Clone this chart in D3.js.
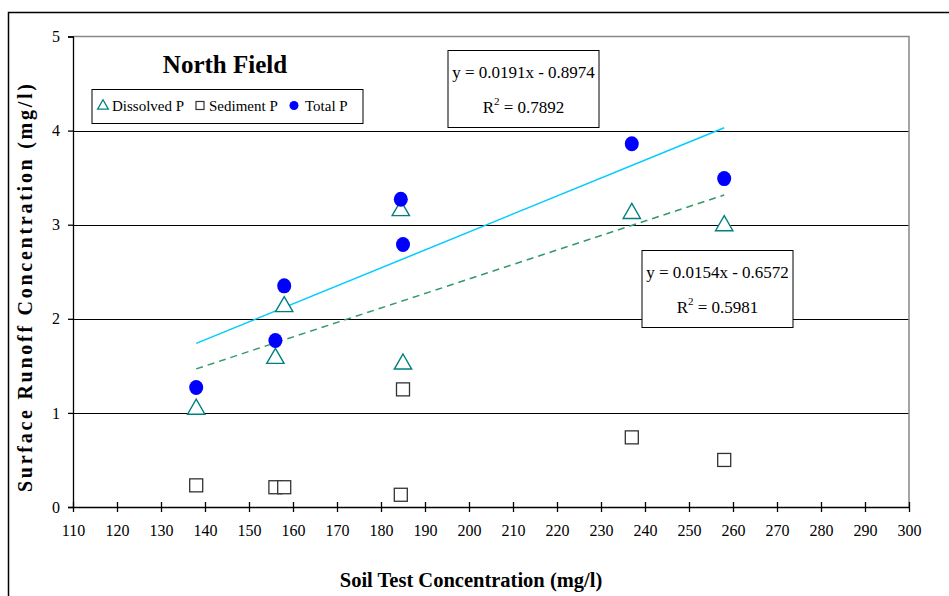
<!DOCTYPE html>
<html>
<head>
<meta charset="utf-8">
<script src="https://cdn.jsdelivr.net/npm/d3@7/dist/d3.min.js"></script>
<style>
  html, body { margin: 0; padding: 0; background: #fff; }
  svg text { font-family: "Liberation Serif", "DejaVu Serif", Tinos, "Times New Roman", serif !important; }
</style>
</head>
<body>
<svg id="chart" width="949" height="596"></svg>
<script>
// Soil test P vs. runoff P, North Field
const soilTest   = [138, 156, 158, 184.5, 185, 237, 258];
const dissolvedP = [1.05, 1.59, 2.14, 3.16, 1.53, 3.13, 3.00];
const sedimentP  = [0.23, 0.21, 0.21, 0.13, 1.25, 0.74, 0.50];
const totalP     = [1.27, 1.77, 2.35, 3.27, 2.79, 3.86, 3.49];

const xTicks = d3.range(110, 301, 10);
const yTicks = [0, 1, 2, 3, 4, 5];

// Fitted trend lines
const totalFit     = { slope: 0.0191, intercept: -0.8974, r2: "0.7892" };
const dissolvedFit = { slope: 0.0154, intercept: -0.6572, r2: "0.5981" };

const svg = d3.select("#chart");
const plot = { left: 73, right: 909, top: 36.5, bottom: 507 };

const x = d3.scaleLinear().domain([110, 300]).range([plot.left, plot.right]);
const y = d3.scaleLinear().domain([0, 5]).range([plot.bottom, plot.top]);

// Outer frame (top and left edges)
svg.append("path")
  .attr("d", `M8.5,596 V12.5 H949`)
  .attr("fill", "none").attr("stroke", "#000").attr("stroke-width", 1.5);

// Horizontal gridlines
svg.append("g").selectAll("line")
  .data(yTicks.filter(d => d > 0 && d < 5))
  .join("line")
  .attr("x1", plot.left).attr("x2", plot.right)
  .attr("y1", d => Math.round(y(d)) + 0.5).attr("y2", d => Math.round(y(d)) + 0.5)
  .attr("stroke", "#000").attr("stroke-width", 1);

// Plot area top and right border
svg.append("path")
  .attr("d", `M${plot.left},${plot.top} H${plot.right} V${plot.bottom}`)
  .attr("fill", "none").attr("stroke", "#888").attr("stroke-width", 1.5);

// Y axis
const yAxis = svg.append("g")
  .attr("transform", `translate(${plot.left},0)`)
  .call(d3.axisLeft(y).tickValues(yTicks).tickSize(5).tickPadding(8).tickFormat(d3.format("d")));
yAxis.attr("font-family", null);
yAxis.select(".domain").attr("stroke", "#000").attr("stroke-width", 1.3);
yAxis.selectAll(".tick line").attr("stroke", "#000").attr("stroke-width", 1.3);
yAxis.selectAll(".tick text").attr("font-size", 16).attr("fill", "#000");

// X axis with crossing ticks
const xAxis = svg.append("g")
  .attr("transform", `translate(0,${plot.bottom})`)
  .call(d3.axisBottom(x).tickValues(xTicks).tickSizeInner(5).tickSizeOuter(0).tickPadding(13).tickFormat(d3.format("d")));
xAxis.attr("font-family", null);
xAxis.select(".domain").attr("stroke", "#000").attr("stroke-width", 1.5);
xAxis.selectAll(".tick line").attr("y1", -5).attr("y2", 5).attr("stroke", "#000").attr("stroke-width", 1.3);
xAxis.selectAll(".tick text").attr("font-size", 16).attr("fill", "#000");

// Trend lines
const xFitMin = d3.min(soilTest), xFitMax = d3.max(soilTest);
svg.append("line")
  .attr("x1", x(xFitMin)).attr("y1", y(totalFit.slope * xFitMin + totalFit.intercept))
  .attr("x2", x(xFitMax)).attr("y2", y(totalFit.slope * xFitMax + totalFit.intercept))
  .attr("stroke", "#00CCFF").attr("stroke-width", 1.5);
svg.append("line")
  .attr("x1", x(xFitMin)).attr("y1", y(dissolvedFit.slope * xFitMin + dissolvedFit.intercept))
  .attr("x2", x(xFitMax)).attr("y2", y(dissolvedFit.slope * xFitMax + dissolvedFit.intercept))
  .attr("stroke", "#339966").attr("stroke-width", 1.5).attr("stroke-dasharray", "7,5");

// Markers
const tri = d3.symbol().type(d3.symbolTriangle).size(130);
svg.append("g").selectAll("rect")
  .data(soilTest.map((s, i) => [s, sedimentP[i]]))
  .join("rect")
  .attr("x", d => x(d[0]) - 6.5).attr("y", d => y(d[1]) - 6.5)
  .attr("width", 13).attr("height", 13)
  .attr("fill", "#fff").attr("stroke", "#333").attr("stroke-width", 1.3);

svg.append("g").selectAll("path")
  .data(soilTest.map((s, i) => [s, dissolvedP[i]]))
  .join("path")
  .attr("d", tri)
  .attr("transform", d => `translate(${x(d[0])},${y(d[1]) + 1})`)
  .attr("fill", "#fff").attr("stroke", "#008080").attr("stroke-width", 1.4);

svg.append("g").selectAll("ellipse")
  .data(soilTest.map((s, i) => [s, totalP[i]]))
  .join("ellipse")
  .attr("cx", d => x(d[0])).attr("cy", d => y(d[1]))
  .attr("rx", 7).attr("ry", 7.5)
  .attr("fill", "#0000FF");

// Title
svg.append("text")
  .attr("x", 225).attr("y", 73)
  .attr("text-anchor", "middle")
  .attr("font-size", 25).attr("font-weight", "bold")
  .text("North Field");

// Legend
const legend = svg.append("g");
legend.append("rect")
  .attr("x", 92).attr("y", 89.5).attr("width", 271).attr("height", 34)
  .attr("fill", "#fff").attr("stroke", "#000").attr("stroke-width", 1);
legend.append("path")
  .attr("d", d3.symbol().type(d3.symbolTriangle).size(50))
  .attr("transform", "translate(103,106)")
  .attr("fill", "none").attr("stroke", "#008080").attr("stroke-width", 1.3);
legend.append("text").attr("x", 112).attr("y", 111).attr("font-size", 15).text("Dissolved P");
legend.append("rect")
  .attr("x", 196).attr("y", 101.5).attr("width", 8).attr("height", 8)
  .attr("fill", "none").attr("stroke", "#333").attr("stroke-width", 1.2);
legend.append("text").attr("x", 209).attr("y", 111).attr("font-size", 15).text("Sediment P");
legend.append("circle").attr("cx", 294).attr("cy", 105.5).attr("r", 4.5).attr("fill", "#0000FF");
legend.append("text").attr("x", 305).attr("y", 111).attr("font-size", 15).text("Total P");

// Equation boxes
function eqBox(bx, by, fit) {
  const g = svg.append("g");
  g.append("rect")
    .attr("x", bx).attr("y", by).attr("width", 151).attr("height", 77)
    .attr("fill", "#fff").attr("stroke", "#000").attr("stroke-width", 1);
  const cx = bx + 75.5;
  const sign = fit.intercept < 0 ? "-" : "+";
  g.append("text")
    .attr("x", cx).attr("y", by + 27).attr("text-anchor", "middle").attr("font-size", 17)
    .text(`y = ${fit.slope.toFixed(4)}x ${sign} ${Math.abs(fit.intercept).toFixed(4)}`);
  const t = g.append("text")
    .attr("x", cx).attr("y", by + 62).attr("text-anchor", "middle").attr("font-size", 17);
  t.append("tspan").text("R");
  t.append("tspan").attr("font-size", 11).attr("dy", -8).text("2");
  t.append("tspan").attr("dy", 8).text(` = ${fit.r2}`);
}
eqBox(448, 50.5, totalFit);
eqBox(642, 250.5, dissolvedFit);

// Axis titles
svg.append("text")
  .attr("x", 471).attr("y", 587)
  .attr("text-anchor", "middle").attr("font-size", 20.5).attr("font-weight", "bold")
  .text("Soil Test Concentration (mg/l)");

svg.append("text")
  .attr("transform", "translate(32,288) rotate(-90)")
  .attr("text-anchor", "middle").attr("font-size", 20).attr("font-weight", "bold")
  .attr("textLength", 408).attr("lengthAdjust", "spacing")
  .text("Surface Runoff Concentration (mg/l)");
</script>
</body>
</html>
